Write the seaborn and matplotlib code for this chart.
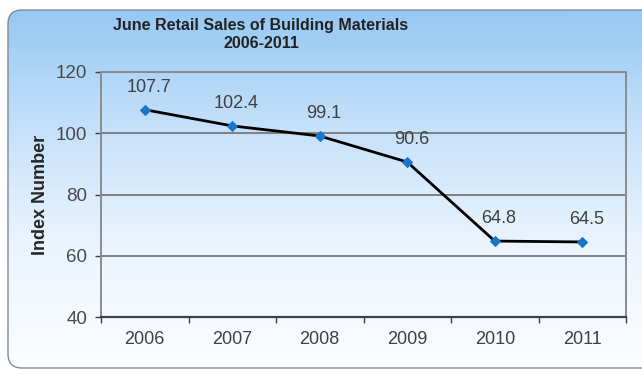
import numpy as np
import pandas as pd
import matplotlib
matplotlib.use("Agg")
import matplotlib.pyplot as plt
from matplotlib.patches import FancyBboxPatch
from matplotlib.ticker import FixedLocator
import seaborn as sns

YEARS = ["2006", "2007", "2008", "2009", "2010", "2011"]
INDEX = [107.7, 102.4, 99.1, 90.6, 64.8, 64.5]
Y_TICKS = [40, 60, 80, 100, 120]

TITLE = "June Retail Sales of Building Materials\n2006-2011"
Y_LABEL = "Index Number"

sns.set_style("white")
plt.rcParams["font.family"] = ["Liberation Sans", "DejaVu Sans"]

fig = plt.figure(figsize=(6.42, 3.77), dpi=100)
fig.patch.set_facecolor("white")

# background: rounded box with a blue -> white vertical gradient
bg = fig.add_axes([0, 0, 1, 1], zorder=-1)
bg.set_xlim(0, 642)
bg.set_ylim(377, 0)
bg.axis("off")
grad = np.linspace(0, 1, 256).reshape(-1, 1)
cmap = matplotlib.colors.LinearSegmentedColormap.from_list(
    "bgfade", ["#96c8f3", "#c6e1fa", "#ecf5fe", "#fbfdff"])
img = bg.imshow(grad, cmap=cmap, aspect="auto", extent=(0, 642, 368, 10))
box = FancyBboxPatch((8, 10), 660, 358, boxstyle="round,pad=0,rounding_size=14",
                     facecolor="none", edgecolor="#7f8c99", linewidth=1.0,
                     transform=bg.transData)
bg.add_patch(box)
img.set_clip_path(box)

df = pd.DataFrame({"year": YEARS, "index": INDEX})

ax = fig.add_axes([101 / 642, 60 / 377, 525 / 642, 245 / 377])
ax.patch.set_alpha(0)
sns.lineplot(data=df, x="year", y="index", ax=ax, color="black", linewidth=2.0,
             marker="D", markersize=5.5, markerfacecolor="#1a74c8",
             markeredgecolor="#1a74c8", zorder=3)

for i, v in enumerate(INDEX):
    ax.annotate(f"{v}", (i, v), xytext=(3, 10), textcoords="offset points",
                ha="center", va="bottom", fontsize=13, color="#404040")

ax.set_xlim(-0.5, len(YEARS) - 0.5)
ax.set_ylim(40, 120)
ax.set_yticks(Y_TICKS)
ax.yaxis.grid(True, color="#7f7f7f", linewidth=1.4)
ax.set_axisbelow(True)

ax.xaxis.set_minor_locator(FixedLocator(np.arange(-0.5, len(YEARS), 1.0)))
ax.tick_params(axis="x", which="major", length=0, pad=10, labelsize=13,
               labelcolor="#404040")
ax.tick_params(axis="x", which="minor", length=4, width=1, color="#404040",
               direction="out", bottom=True)
ax.tick_params(axis="y", length=4, width=1, color="#404040", direction="out",
               left=True, pad=6, labelsize=13.5, labelcolor="#4a4a4a")

for side in ["left", "right", "top"]:
    ax.spines[side].set_color("#8c8c8c")
    ax.spines[side].set_linewidth(1.4)
ax.spines["bottom"].set_color("#404040")
ax.spines["bottom"].set_linewidth(1.6)

ax.set_xlabel("")
ax.set_ylabel(Y_LABEL, fontsize=13, fontweight="bold", color="#262626", labelpad=5)

fig.text(261 / 642, 1 - 34.5 / 377, TITLE, ha="center", va="center", fontsize=11.5,
         fontweight="bold", color="#222222", linespacing=1.2)

fig.savefig("out.png", dpi=100)
